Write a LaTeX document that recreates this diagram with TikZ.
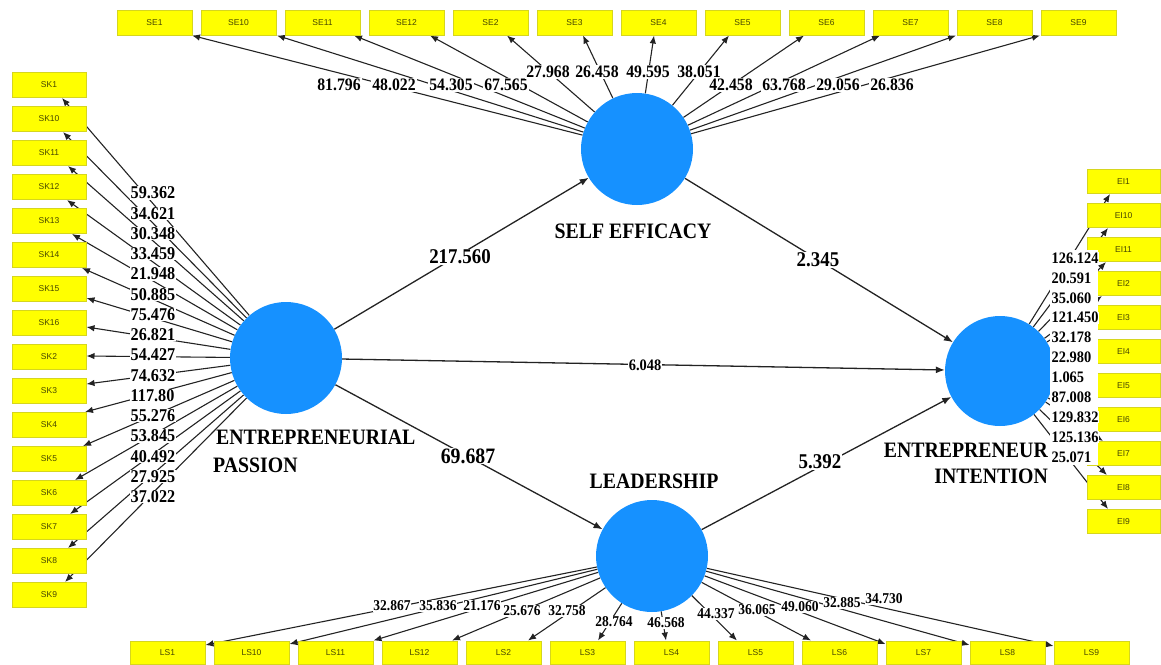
\documentclass[tikz,border=0pt]{standalone}
\usepackage{fontspec}
\setmainfont{Liberation Serif}[FakeStretch=0.9]
\newfontfamily\boxfont{Liberation Sans}
\usetikzlibrary{arrows.meta,calc,backgrounds}
\definecolor{lvblue}{RGB}{22,145,255}
\definecolor{indfill}{RGB}{255,255,0}
\definecolor{indborder}{RGB}{214,214,30}
\definecolor{indtext}{RGB}{70,70,0}
\definecolor{edgecol}{RGB}{35,35,35}
\begin{document}
\begin{tikzpicture}[x=1pt,y=-1pt,
  lv/.style={circle,fill=lvblue,minimum size=112pt,inner sep=0pt},
  ind/.style={rectangle,fill=indfill,draw=indborder,line width=1pt,minimum width=74pt,minimum height=24pt,inner sep=0pt,font=\boxfont\fontsize{8.5}{9}\selectfont,text=indtext},
  ld/.style={draw=edgecol,line width=1.1pt,-{Latex[length=8pt,width=6.5pt]}},
  sarrow/.style={draw=edgecol,line width=1.3pt,-{Latex[length=9pt,width=7pt]}},
  wl/.style={fill=white,inner sep=1pt,font=\bfseries\fontsize{17.5}{18}\selectfont},
  wlsk/.style={fill=white,inner sep=0.5pt,anchor=west,font=\bfseries\fontsize{18}{18}\selectfont},
  wlei/.style={fill=white,inner sep=0.5pt,anchor=west,font=\bfseries\fontsize{16}{16}\selectfont},
  wlls/.style={fill=white,inner sep=0.5pt,font=\bfseries\fontsize{15}{15}\selectfont},
  pl/.style={fill=white,inner sep=1pt,font=\bfseries\fontsize{21}{21}\selectfont},
  lvname/.style={font=\bfseries\fontsize{22}{22}\selectfont,inner sep=0pt}
]
\useasboundingbox (0,0) rectangle (1161,664);

% latent variables
\node[lv] (EP) at (286,358) {};
\node[lv] (SE) at (637,149) {};
\node[lv] (LS) at (652,556) {};
\node[lv,minimum size=110pt] (EI) at (1000,371) {};

% indicators
\foreach \n [count=\i from 0] in {SE1,SE10,SE11,SE12,SE2,SE3,SE4,SE5,SE6,SE7,SE8,SE9}
  \node[ind,minimum width=75pt,minimum height=25pt] (\n) at ({154.5+84*\i},22.5) {\n};
\foreach \n [count=\i from 0] in {SK1,SK10,SK11,SK12,SK13,SK14,SK15,SK16,SK2,SK3,SK4,SK5,SK6,SK7,SK8,SK9}
  \node[ind,minimum height=25pt] (\n) at (49,{85+34*\i}) {\n};
\foreach \n [count=\i from 0] in {EI1,EI10,EI11,EI2,EI3,EI4,EI5,EI6,EI7,EI8,EI9}
  \node[ind,minimum width=73pt] (\n) at (1123.5,{181.5+34*\i}) {\n};
\foreach \n [count=\i from 0] in {LS1,LS10,LS11,LS12,LS2,LS3,LS4,LS5,LS6,LS7,LS8,LS9}
  \node[ind,minimum width=75pt,minimum height=23pt] (\n) at ({167.5+84*\i},652.5) {\n};

\begin{scope}[on background layer]
  % outer loadings
  \foreach \n/\x in {SE1/192,SE10/277,SE11/354,SE12/430,SE2/507,SE3/583,SE4/654,SE5/729,SE6/804,SE7/880,SE8/956,SE9/1040}
    \draw[ld] (SE) -- (\x,0 |- \n.south);
  \foreach \n/\x in {SK1/62,SK10/63,SK11/68,SK12/67,SK13/72,SK14/82}
    \draw[ld] (EP) -- (\x,0 |- \n.south);
  \foreach \n/\y in {SK15/298,SK16/327,SK2/356,SK3/384}
    \draw[ld] (EP) -- (\n.east |- 0,\y);
  \foreach \n/\x in {SK4/85,SK5/83,SK6/75,SK7/70,SK8/68,SK9/65}
    \draw[ld] (EP) -- (\x,0 |- \n.north);
  \foreach \n/\x in {EI1/1110,EI10/1108,EI11/1106,EI2/1102}
    \draw[ld] (EI) -- (\x,0 |- \n.south);
  \foreach \n in {EI3,EI4,EI5,EI6}
    \draw[ld] (EI) -- (\n.west);
  \foreach \n/\x in {EI7/1103,EI8/1107,EI9/1108}
    \draw[ld] (EI) -- (\x,0 |- \n.north);
  \foreach \n/\y in {LS1/645,LS10/644}
    \draw[ld] (LS) -- (\n.east |- 0,\y);
  \draw[ld] (LS) -- (LS11.north east);
  \foreach \n/\x in {LS12/452,LS2/528,LS3/598,LS4/666,LS5/737,LS6/811}
    \draw[ld] (LS) -- (\x,0 |- \n.north);
  \foreach \n/\y in {LS7/644,LS8/645,LS9/646}
    \draw[ld] (LS) -- (\n.west |- 0,\y);
  % inner model
  \draw[sarrow] (EP) -- (SE);
  \draw[sarrow] (EP) -- (EI);
  \draw[sarrow] (EP) -- (LS);
  \draw[sarrow] (SE) -- (EI);
  \draw[sarrow] (LS) -- (EI);
\end{scope}

% white panel behind EI loadings
\fill[white] (1050,250) rectangle (1098,465);

% inner model coefficients
\node[pl] (p1) at (460,257) {217.560};
\node[pl] (p2) at (818,260) {2.345};
\node[pl,font=\bfseries\fontsize{16}{16}\selectfont] (p3) at (645,365) {6.048};
\node[pl,font=\bfseries\fontsize{22}{22}\selectfont] (p4) at (468,456) {69.687};
\node[pl] (p5) at (820,462) {5.392};

% latent names
\node[lvname] (nSE) at (633,231) {SELF EFFICACY};
\node[lvname,anchor=west] (nEP1) at (216,437) {ENTREPRENEURIAL};
\node[lvname,anchor=west] (nEP2) at (213,465) {PASSION};
\node[lvname] (nLS) at (654,481) {LEADERSHIP};
\node[lvname,anchor=east] (nEI1) at (1048,450) {ENTREPRENEUR};
\node[lvname,anchor=east] (nEI2) at (1048,476) {INTENTION};

% SE loadings
\foreach \v/\x/\y [count=\k] in {81.796/339/85,48.022/394/85,54.305/451/85,67.565/506/85,27.968/548/72,26.458/597/72,49.595/648/72,38.051/699/72,42.458/731/85,63.768/784/85,29.056/838/85,26.836/892/85}
  \node[wl] (se\k) at (\x,\y) {\v};
% SK loadings
\foreach \v [count=\k from 0] in {59.362,34.621,30.348,33.459,21.948,50.885,75.476,26.821,54.427,74.632,117.80,55.276,53.845,40.492,27.925,37.022}
  \node[wlsk] (sk\k) at (130,{193+20.25*\k}) {\v};
% EI loadings
\foreach \v [count=\k from 0] in {126.124,20.591,35.060,121.450,32.178,22.980,1.065,87.008,129.832,125.136,25.071}
  \node[wlei] (ei\k) at (1051,{258+19.9*\k}) {\v};
% LS loadings
\foreach \v/\x/\y [count=\k] in {32.867/392/606,35.836/438/606,21.176/482/606,25.676/522/611,32.758/567/611,28.764/614/622,46.568/666/623,44.337/716/614,36.065/757/610,49.060/800/607,32.885/842/603,34.730/884/599}
  \node[wlls] (ls\k) at (\x,\y) {\v};
\end{tikzpicture}
\end{document}
